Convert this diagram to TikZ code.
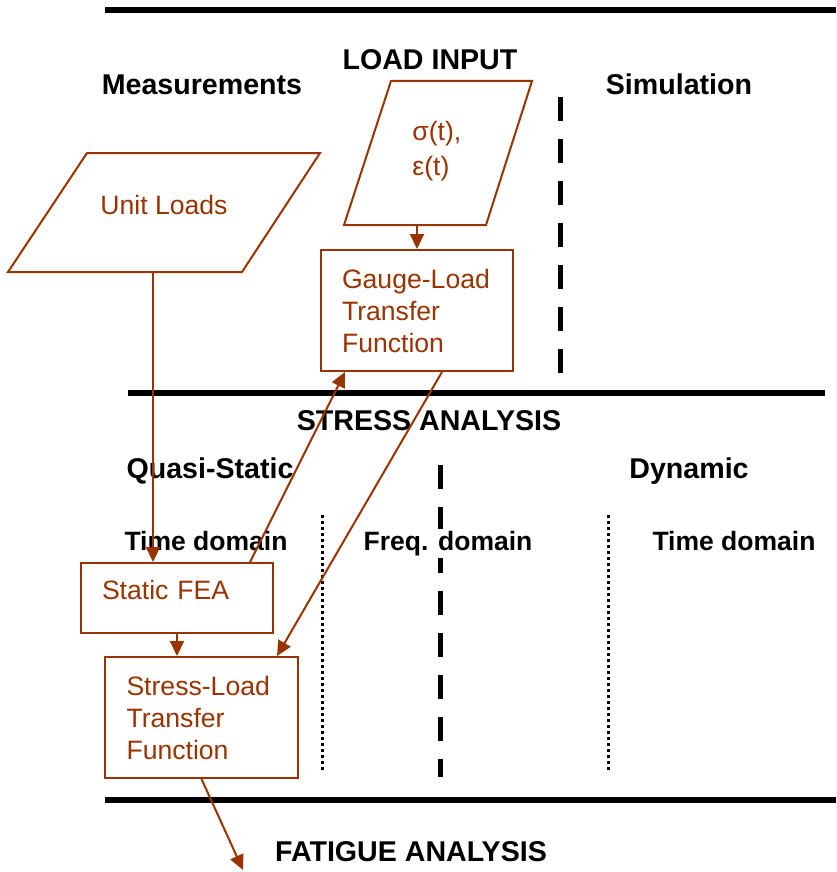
\documentclass[tikz,border=0pt]{standalone}
\usepackage{fontspec}
\setmainfont{Liberation Sans}
\usetikzlibrary{arrows.meta}
\definecolor{rust}{RGB}{153,51,0}

\begin{document}
\begin{tikzpicture}[x=0.5pt, y=-0.5pt,
    flow/.style={draw=rust, line width=1pt, line join=miter},
    box/.style={draw=rust, line width=1pt, text=rust, anchor=north west, align=left,
        inner xsep=10.5pt, text width=75pt, font=\fontsize{13.3}{16}\selectfont},
    link/.style={rust, line width=1pt, -{Triangle[length=7.5pt, width=7pt]}},
    head/.style={anchor=base, font=\fontsize{14.3}{16}\selectfont\bfseries},
    sub/.style={anchor=base, font=\fontsize{13.25}{16}\selectfont\bfseries},
    bar/.style={line width=3pt},
    split/.style={line width=2.5pt, dash pattern=on 12pt off 9pt},
    col/.style={line width=1.5pt, dash pattern=on 1.5pt off 1.5pt}]
    \useasboundingbox (0,0) rectangle (836,872);

    % Section bars
    \draw[bar] (105,10) -- (836,10);
    \draw[bar] (128,393) -- (825,393);
    \draw[bar] (105,800) -- (836,800);

    % Column separators
    \draw[split] (560,97) -- (560,380);
    \draw[split] (440,465) -- (440,777);
    \draw[col] (322,515) -- (322,772);
    \draw[col] (608,515) -- (608,772);

    % Headings
    \node[head] (loadin) at (430,70) {LOAD INPUT};
    \node[head] (meas) at (202,95) {Measurements};
    \node[head] (sim) at (679,95) {Simulation};
    \node[head] (stress) at (429,430) {STRESS ANALYSIS};
    \node[head] (quasi) at (210,478) {Quasi-Static};
    \node[head] (dyn) at (689,478) {Dynamic};
    \node[sub] (tdom) at (206,550) {Time domain};
    \node[sub, fill=white, inner sep=1pt] (fdom) at (448,550) {Freq. domain};
    \node[sub] (tdyn) at (734,550) {Time domain};
    \node[head] (fatigue) at (411,861) {FATIGUE ANALYSIS};

    % Inputs
    \draw[flow] (87,153) -- (320,153) -- (242,272) -- (8,272) -- cycle;
    \node[text=rust, font=\fontsize{13.3}{16}\selectfont] (unit) at (164,205) {Unit Loads};
    \coordinate (unitout) at (153,272);

    \draw[flow] (391,81) -- (532,81) -- (486,225) -- (344,225) -- cycle;
    \node[text=rust, anchor=west, align=left, inner sep=0pt,
        font=\fontsize{13.3}{17.5}\selectfont] (sig) at (412,151) {σ(t),\\ε(t)};
    \coordinate (sigout) at (417,225);

    % Boxes
    \node[box, minimum width=96pt, minimum height=60.5pt] (gauge) at (320,249)
        {Gauge-Load\\Transfer\\Function};
    \node[box, minimum width=96pt, minimum height=35pt] (fea) at (80,562)
        {\raisebox{4pt}[\height][\depth]{Static FEA}};
    \node[box, minimum width=96.5pt, minimum height=60.5pt] (stressload) at (104,656)
        {Stress-Load\\Transfer\\Function};
    \coordinate (fatin) at (243,870);

    % Links
    \draw[link] (sigout) -- (sigout |- gauge.north);
    \draw[link] (unitout) -- (unitout |- fea.north);
    \draw[link] ([xshift=-12pt]fea.north east) -- ([xshift=12.5pt]gauge.south west);
    \draw[link] ([xshift=-36pt]gauge.south east) -- ([xshift=-11pt]stressload.north east);
    \draw[link] (fea.south) -- (fea.south |- stressload.north);
    \draw[link] (stressload.south) -- (fatin);
\end{tikzpicture}
\end{document}
